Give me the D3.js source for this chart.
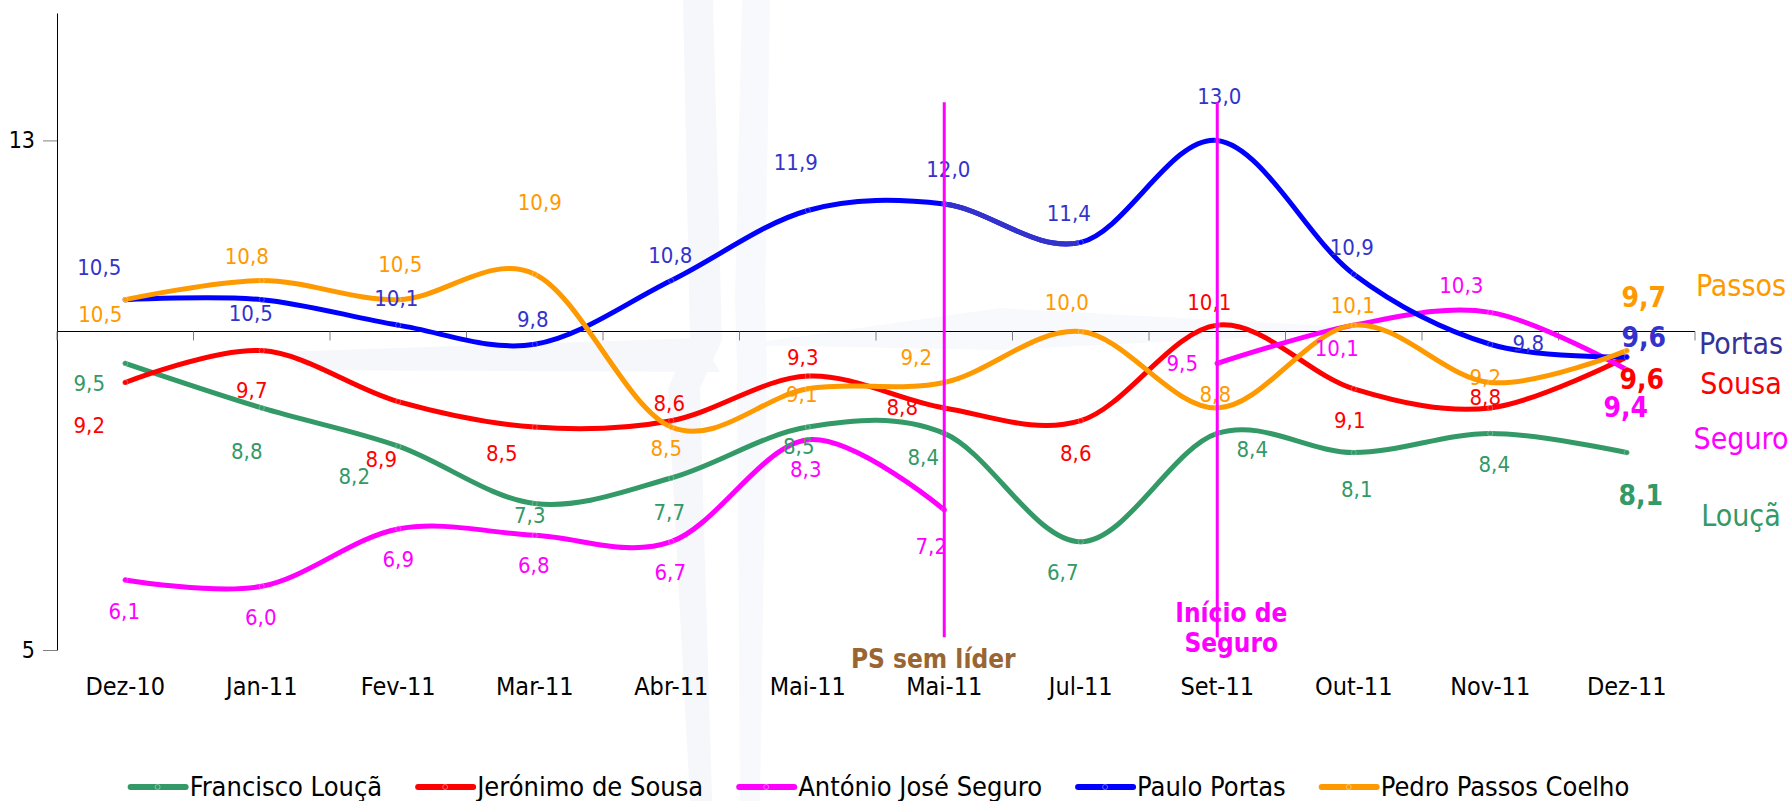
<!DOCTYPE html>
<html lang="pt">
<head>
<meta charset="utf-8">
<title>Barómetro - líderes partidários</title>
<script src="https://cdnjs.cloudflare.com/ajax/libs/d3/7.8.5/d3.min.js"></script>
<style>
body { margin: 0; background: #fff; }
svg text { font-family: "DejaVu Sans Condensed", "DejaVu Sans", sans-serif; font-stretch: condensed; }
</style>
</head>
<body>
<script>
// data
var months = ["Dez-10","Jan-11","Fev-11","Mar-11","Abr-11","Mai-11","Mai-11","Jul-11","Set-11","Out-11","Nov-11","Dez-11"];
var louca  = [9.5, 8.8, 8.2, 7.3, 7.7, 8.5, 8.4, 6.7, 8.4, 8.1, 8.4, 8.1];
var sousa  = [9.2, 9.7, 8.9, 8.5, 8.6, 9.3, 8.8, 8.6, 10.1, 9.1, 8.8, 9.6];
var seguro = [6.1, 6.0, 6.9, 6.8, 6.7, 8.3, 7.2, null, 9.5, 10.1, 10.3, 9.4];
var portas = [10.5, 10.5, 10.1, 9.8, 10.8, 11.9, 12.0, 11.4, 13.0, 10.9, 9.8, 9.6];
var passos = [10.5, 10.8, 10.5, 10.9, 8.5, 9.1, 9.2, 10.0, 8.8, 10.1, 9.2, 9.7];
var legendNames = ["Francisco Louçã","Jerónimo de Sousa","António José Seguro","Paulo Portas","Pedro Passos Coelho"];
var shortNames = ["Louçã","Sousa","Seguro","Portas","Passos"];
var yTicks = [5, 13];
var eventIdx = [6, 8];
var eventText = [["PS sem líder"], ["Início de", "Seguro"]];

// label nudges (px) for each point, like the manual placing in the original
var offLouca  = [[-36,20],[-15,44],[-44,30],[-5,12],[-2,34],[-9,19],[-21,24],[-18,31],[35,16],[3,37],[4,31],[14,43]];
var offSousa  = [[-36,43],[-10,40],[-17,58],[-33,26],[-2,-17],[-5,-19],[-42,0],[-5,33],[-8,-23],[-4,32],[-5,-10],[15,23]];
var offSeguro = [[-1,32],[-1,31],[0,31],[-1,30],[-1,31],[-2,30],[-13,37],null,[-35,0],[-17,23],[-29,-27],[-1,38]];
var offPortas = [[-26,-32],[-11,14],[-2,-27],[-2,-25],[-1,-25],[-12,-48],[4,-35],[-12,-29],[2,-44],[-2,-27],[38,-1],[17,-19]];
var offPassos = [[-25,15],[-15,-24],[2,-35],[5,-72],[-5,21],[-6,6],[-28,-25],[-14,-29],[-2,-13],[-1,-20],[-5,-5],[17,-53]];

var series = [
  {values: louca,  line: "#339966", text: "#339966", off: offLouca},
  {values: sousa,  line: "#ff0000", text: "#ff0000", off: offSousa},
  {values: seguro, line: "#ff00ff", text: "#ff00ff", off: offSeguro},
  {values: portas, line: "#0000ff", text: "#3333cc", off: offPortas},
  {values: passos, line: "#ff9900", text: "#ff9900", off: offPassos}
];
var nameColors = ["#339966", "#ff0000", "#ff00ff", "#333399", "#ff9900"];
var nameY = [515, 383, 438, 343, 285];

var W = 1791, H = 801;
var svg = d3.select("body").append("svg").attr("width", W).attr("height", H);

var x = d3.scaleBand().domain(d3.range(months.length)).range([57, 1695]);
var y = d3.scaleLinear().domain([5, 15]).range([650, 13]);
function cx(i) { return x(i) + x.bandwidth() / 2; }

// faint compass watermark in the background
var wm = svg.append("g");
wm.append("polygon").attr("points", "683,0 713,0 722,340 700,388 712,801 690,801 668,388 690,340").attr("fill", "#f5f7fb");
wm.append("polygon").attr("points", "742,0 770,0 765,300 767,367 760,801 740,801 737,367 735,300").attr("fill", "#f7f9fc");
wm.append("polygon").attr("points", "280,352 700,338 720,372 300,370").attr("fill", "#f5f7fb");
wm.append("polygon").attr("points", "740,345 1000,308 1400,330 1000,350").attr("fill", "#f7f9fc");

// y axis
var yAxis = svg.append("g").attr("transform", "translate(57,0)")
  .call(d3.axisLeft(y).tickValues(yTicks).tickSize(14).tickSizeOuter(0).tickPadding(8));
yAxis.select(".domain").attr("stroke", "#000");
yAxis.selectAll(".tick line").attr("stroke", "#808080");
yAxis.selectAll(".tick text").attr("font-size", 23).attr("fill", "#000")
  .style("font-family", "'DejaVu Sans Condensed','DejaVu Sans',sans-serif");

// category axis crossing at 10
var y10 = y(10);
svg.append("line").attr("x1", x.range()[0]).attr("x2", x.range()[1])
  .attr("y1", y10).attr("y2", y10).attr("stroke", "#000").attr("stroke-width", 1.2);
svg.selectAll(".xtick").data(d3.range(months.length + 1)).enter().append("line")
  .attr("x1", function(i){ return x.range()[0] + i * x.step(); })
  .attr("x2", function(i){ return x.range()[0] + i * x.step(); })
  .attr("y1", y10).attr("y2", y10 + 9).attr("stroke", "#808080");
svg.selectAll(".xlab").data(months).enter().append("text")
  .attr("x", function(d, i){ return cx(i); }).attr("y", 686)
  .attr("text-anchor", "middle").attr("dominant-baseline", "central")
  .attr("font-size", 25).attr("fill", "#000").text(function(d){ return d; });

// lines
var line = d3.line()
  .defined(function(d){ return d != null; })
  .x(function(d, i){ return cx(i); })
  .y(function(d){ return y(d); })
  .curve(d3.curveCardinal.tension(0));

svg.append("clipPath").attr("id", "seg").append("rect")
  .attr("x", cx(6)).attr("width", cx(7) - cx(6)).attr("y", 0).attr("height", H);

series.forEach(function(s, k) {
  svg.append("path").datum(s.values).attr("d", line)
    .attr("fill", "none").attr("stroke", s.line).attr("stroke-width", 5)
    .attr("stroke-linecap", "round");
  if (k == 3) { // this stretch of the Portas line is a darker blue
    svg.append("path").datum(s.values).attr("d", line).attr("clip-path", "url(#seg)")
      .attr("fill", "none").attr("stroke", "#3333cc").attr("stroke-width", 5);
  }
  svg.selectAll(null).data(s.values.map(function(v, i){ return {v: v, i: i}; }).filter(function(d){ return d.v != null; }))
    .enter().append("circle")
    .attr("cx", function(d){ return cx(d.i); }).attr("cy", function(d){ return y(d.v); })
    .attr("r", 2.6).attr("fill", s.line).attr("stroke", "#fff").attr("stroke-opacity", 0.35).attr("stroke-width", 0.8);
});

// data labels
var fmt = function(v){ return v.toFixed(1).replace(".", ","); };
series.forEach(function(s) {
  var last = s.values.length - 1;
  svg.selectAll(null).data(s.values.map(function(v, i){ return {v: v, i: i}; }).filter(function(d){ return d.v != null; }))
    .enter().append("text")
    .attr("x", function(d){ return cx(d.i) + s.off[d.i][0]; })
    .attr("y", function(d){ return y(d.v) + s.off[d.i][1]; })
    .attr("text-anchor", "middle").attr("dominant-baseline", "central")
    .attr("font-size", function(d){ return d.i == last ? 28 : 22; })
    .attr("font-weight", function(d){ return d.i == last ? "bold" : "normal"; })
    .attr("fill", s.text)
    .text(function(d){ return fmt(d.v); });
});

// event markers
eventIdx.forEach(function(idx, k) {
  svg.append("line").attr("x1", cx(idx)).attr("x2", cx(idx))
    .attr("y1", y(13.6)).attr("y2", y(5.2))
    .attr("stroke", "#ff00ff").attr("stroke-width", 3);
});
svg.append("text").attr("x", cx(eventIdx[0]) - 11).attr("y", 659)
  .attr("text-anchor", "middle").attr("dominant-baseline", "central")
  .attr("font-size", 26).attr("font-weight", "bold").attr("fill", "#996633")
  .text(eventText[0][0]);
svg.selectAll(".ev2").data(eventText[1]).enter().append("text")
  .attr("x", cx(eventIdx[1]) + 14).attr("y", function(d, i){ return 613 + i * 30; })
  .attr("text-anchor", "middle").attr("dominant-baseline", "central")
  .attr("font-size", 26).attr("font-weight", "bold").attr("fill", "#ff00ff")
  .text(function(d){ return d; });

// names on the right
svg.selectAll(".nm").data(shortNames).enter().append("text")
  .attr("x", 1741).attr("y", function(d, i){ return nameY[i]; })
  .attr("text-anchor", "middle").attr("dominant-baseline", "central")
  .attr("font-size", 30).attr("fill", function(d, i){ return nameColors[i]; })
  .text(function(d){ return d; });

// legend
var lg = svg.append("g");
var items = lg.selectAll("g").data(legendNames).enter().append("g");
items.append("line").attr("x1", 0).attr("x2", 55).attr("y1", 787).attr("y2", 787)
  .attr("stroke", function(d, i){ return series[i].line; }).attr("stroke-width", 6).attr("stroke-linecap", "round");
items.append("circle").attr("cx", 27).attr("cy", 787).attr("r", 2.5)
  .attr("fill", function(d, i){ return series[i].line; }).attr("stroke", "#fff").attr("stroke-opacity", 0.4);
items.append("text").attr("x", 59).attr("y", 796).attr("font-size", 27).attr("fill", "#000")
  .text(function(d){ return d; });
var pos = 0, widths = [];
items.each(function() { widths.push(59 + d3.select(this).select("text").node().getComputedTextLength()); });
var gap = 36;
var total = d3.sum(widths) + gap * (widths.length - 1);
pos = 880 - total / 2;
items.attr("transform", function(d, i) {
  var t = "translate(" + pos + ",0)";
  pos += widths[i] + gap;
  return t;
});
</script>
</body>
</html>
